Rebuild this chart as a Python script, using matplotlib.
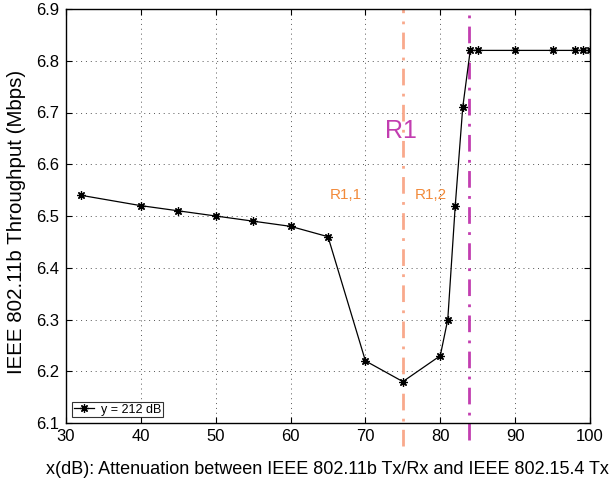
import matplotlib
matplotlib.use("Agg")
import matplotlib.pyplot as plt

plt.rcParams['font.family'] = ['Liberation Sans', 'DejaVu Sans']

x_db = [32, 40, 45, 50, 55, 60, 65, 70, 75, 80, 81, 82, 83, 84, 85, 90, 95, 98, 99, 100]
throughput = [6.54, 6.52, 6.51, 6.50, 6.49, 6.48, 6.46, 6.22, 6.18, 6.23, 6.30, 6.52, 6.71,
              6.82, 6.82, 6.82, 6.82, 6.82, 6.82, 6.82]
x_ticks = [30, 40, 50, 60, 70, 80, 90, 100]
y_ticks = [6.1, 6.2, 6.3, 6.4, 6.5, 6.6, 6.7, 6.8, 6.9]
boundary_r11 = 75
boundary_r1 = 83.8

fig = plt.figure(figsize=(6.10, 4.78), dpi=100)
ax = fig.add_axes([66/610, 1 - 423/478, (590-66)/610, (423-9)/478])

ax.plot(x_db, throughput, color='black', lw=0.9, marker=(8, 2, 0), ms=6,
        markeredgewidth=0.9, label='y = 212 dB', zorder=3)

ax.axvline(boundary_r11, ymin=-0.055, ymax=1, color='#F9A98C', lw=2,
           linestyle=(0, (6, 3, 1, 3)), clip_on=False, zorder=2)
ax.axvline(boundary_r1, ymin=-0.04, ymax=1, color='#C23DB0', lw=2,
           linestyle=(0, (6, 3, 1, 3)), clip_on=False, zorder=2)

ax.text(74.7, 6.664, 'R1', color='#C23DB0', fontsize=18, ha='center', va='center')
ax.text(67.4, 6.541, 'R1,1', color='#F28A3A', fontsize=11, ha='center', va='center')
ax.text(78.8, 6.541, 'R1,2', color='#F28A3A', fontsize=11, ha='center', va='center')

ax.set_xlim(30, 100)
ax.set_ylim(6.1, 6.9)
ax.set_xticks(x_ticks)
ax.set_yticks(y_ticks)
ax.set_xticklabels([str(t) for t in x_ticks])
ax.set_yticklabels([f'{t:.1f}' for t in y_ticks])
ax.tick_params(direction='in', top=True, right=True, labelsize=12, length=4, width=0.8)
ax.tick_params(axis='x', pad=4.5)
ax.tick_params(axis='y', pad=5)
ax.grid(True, color='#555555', linestyle=(0, (1, 4)), lw=0.7)
for s in ax.spines.values():
    s.set_linewidth(1.0)

fig.text(46/610, 4/478, 'x(dB): Attenuation between IEEE 802.11b Tx/Rx and IEEE 802.15.4 Tx',
         fontsize=13, ha='left', va='baseline')
fig.text(17/610, 1 - 222/478, 'IEEE 802.11b Throughput (Mbps)', fontsize=14.8,
         rotation=90, ha='center', va='center')

leg = ax.legend(loc='lower left', fontsize=9, frameon=True, fancybox=False,
                edgecolor='black', borderpad=0.15, handlelength=1.6,
                handletextpad=0.6, borderaxespad=0.45)
leg.get_frame().set_linewidth(0.8)

fig.savefig('out.png', dpi=100)
